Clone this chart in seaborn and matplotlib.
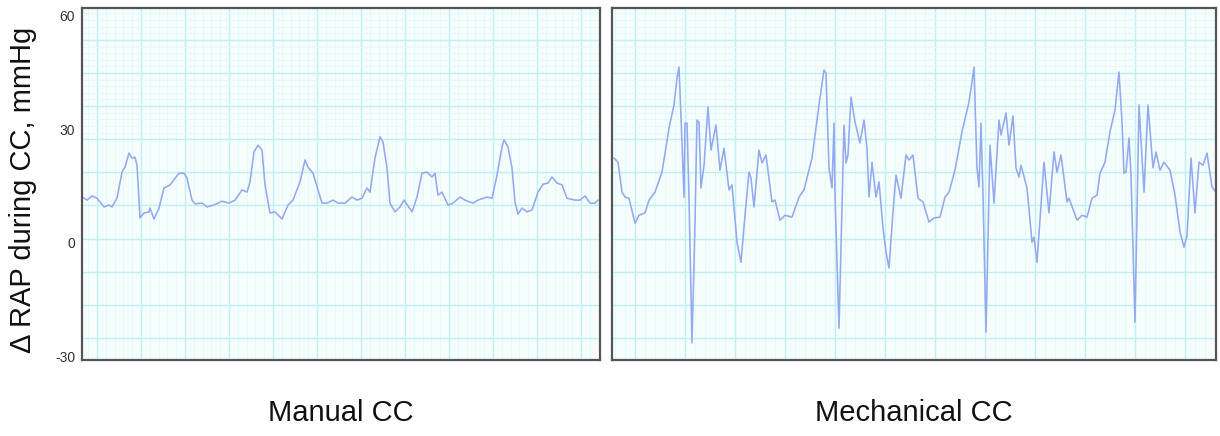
import numpy as np
import pandas as pd
import seaborn as sns
import matplotlib.pyplot as plt

# time (arbitrary sample units) and delta RAP (mmHg)
manual_t = [0, 5, 10, 15, 22, 27, 30, 35, 40, 43, 47, 50, 53, 55, 58, 62, 67, 68, 72, 77,
            82, 88, 97, 102, 105, 110, 113, 120, 125, 132, 140, 147, 153, 160, 165, 168, 172, 176, 180, 183,
            188, 193, 200, 206, 211, 218, 223, 226, 231, 240, 245, 251, 256, 263, 270, 275, 280, 285, 288, 293,
            298, 301, 305, 308, 313, 318, 322, 330, 335, 340, 345, 350, 353, 356, 360, 366, 371, 378, 383, 391,
            396, 405, 410, 415, 420, 422, 426, 430, 433, 436, 440, 445, 450, 456, 461, 466, 470, 475, 480, 485,
            493, 498, 503, 508, 513, 516]
manual_p = [12.2, 11.3, 12.4, 11.8, 9.5, 10.0, 9.5, 11.8, 18.7, 20.0, 23.7, 22.4, 22.6, 20.5, 6.6, 7.9, 8.2, 9.2, 6.3, 9.2,
            14.5, 15.3, 18.4, 18.4, 17.1, 11.3, 10.3, 10.5, 9.5, 10.0, 11.0, 10.5, 11.3, 14.0, 13.4, 16.1, 24.0, 25.8, 24.5, 15.3,
            7.9, 8.2, 6.3, 10.0, 11.3, 16.1, 21.9, 20.0, 18.4, 10.5, 10.5, 11.3, 10.5, 10.5, 12.1, 11.3, 11.8, 14.5, 13.4, 22.4,
            28.0, 26.6, 19.8, 10.5, 8.2, 9.5, 11.3, 8.2, 12.1, 18.4, 18.7, 17.4, 18.4, 12.6, 13.4, 10.0, 10.5, 12.1, 11.3, 10.5,
            11.3, 12.1, 11.8, 17.9, 25.3, 27.2, 25.3, 19.8, 10.8, 7.6, 9.2, 8.2, 8.7, 13.4, 15.5, 15.8, 17.4, 15.8, 15.3, 11.8,
            11.3, 11.3, 12.4, 10.5, 10.5, 11.3]

mech_t = [2, 6, 10, 13, 17, 23, 27, 33, 37, 43, 50, 57, 62, 65, 67, 70, 72, 73, 75, 77,
          80, 83, 85, 87, 89, 92, 96, 99, 104, 108, 112, 117, 120, 125, 129, 133, 137, 139, 142, 147,
          150, 154, 160, 163, 168, 173, 180, 187, 192, 197, 200, 207, 212, 214, 217, 220, 222, 223, 227, 232,
          234, 236, 239, 243, 248, 252, 255, 257, 260, 264, 267, 271, 274, 277, 281, 284, 289, 294, 297, 301,
          306, 311, 317, 322, 328, 333, 337, 343, 350, 357, 360, 362, 365, 367, 369, 371, 374, 378, 382, 387,
          389, 394, 397, 401, 404, 407, 409, 415, 420, 422, 425, 432, 437, 442, 445, 449, 455, 457, 465, 470,
          475, 480, 485, 488, 493, 498, 503, 507, 510, 512, 514, 517, 519, 523, 527, 532, 536, 541, 544, 548,
          552, 558, 563, 568, 572, 575, 579, 583, 587, 591, 595, 600, 604]
mech_p = [22.4, 21.3, 13.4, 12.1, 11.8, 5.2, 7.3, 7.9, 11.3, 13.4, 18.7, 30.3, 36.4, 43.5, 46.4, 26.6, 12.1, 31.6, 31.6, 11.8,
          -26.4, 5.5, 32.4, 31.9, 14.5, 20.5, 35.9, 24.5, 31.1, 19.2, 25.0, 14.0, 15.3, 0.2, -5.1, 7.3, 18.7, 17.1, 9.5, 24.5,
          21.1, 23.2, 10.8, 11.3, 6.0, 7.3, 6.8, 12.1, 14.0, 19.2, 22.4, 36.4, 45.6, 44.8, 19.8, 14.5, 31.6, 12.6, -22.5, 31.1,
          21.1, 23.2, 38.5, 31.9, 26.4, 32.4, 25.0, 12.1, 21.3, 12.1, 16.1, 3.9, -2.4, -6.6, 8.2, 17.9, 11.8, 23.2, 21.9, 23.2,
          11.8, 10.8, 5.5, 6.6, 6.8, 12.1, 13.4, 19.2, 29.3, 37.2, 42.5, 46.4, 19.8, 14.8, 31.6, 12.6, -23.5, 25.8, 10.5, 32.4,
          28.5, 34.3, 25.8, 33.5, 19.8, 17.4, 20.5, 14.5, 0.2, 1.5, -5.1, 21.3, 7.9, 24.0, 18.7, 23.2, 10.8, 11.8, 6.0, 7.3,
          6.8, 11.8, 12.6, 18.4, 21.3, 29.3, 35.1, 45.1, 31.9, 18.4, 18.7, 27.7, 17.9, -20.9, 36.4, 13.4, 36.4, 19.8, 24.0, 19.2,
          21.3, 19.2, 12.6, 2.9, -1.1, 1.9, 22.4, 7.9, 21.3, 20.5, 23.7, 14.8, 13.4]

panel_names = ["Manual CC", "Mechanical CC"]
y_ticks = [60, 30, 0, -30]

sns.set_style("white")
plt.rcParams["font.family"] = ["Liberation Sans", "DejaVu Sans"]

fig = plt.figure(figsize=(12.2, 4.36), dpi=100)
ax1 = fig.add_axes([82 / 1220, 1 - 360 / 436, 518 / 1220, 352 / 436])
ax2 = fig.add_axes([612 / 1220, 1 - 360 / 436, 604 / 1220, 352 / 436])

ylo, yhi = -30.9, 62.0
px = (yhi - ylo) / 352  # mmHg per pixel

traces = [(ax1, manual_t, manual_p, 518, 15, 44), (ax2, mech_t, mech_p, 604, 23, 50)]
for ax, t, p, width, x0, dx in traces:
    ax.set_facecolor("#f5fdfd")
    # ECG-paper style grid
    for gx in np.arange(x0 - dx, width, dx / 5):
        ax.axvline(gx, color="#e2f9fa", lw=0.6, zorder=0)
    for gx in np.arange(x0, width, dx):
        ax.axvline(gx, color="#bff1f3", lw=1.0, zorder=0)
    gy0 = yhi - 65 * px
    gdy = 33.1 * px
    for gy in np.arange(gy0 - 2 * gdy, yhi, gdy / 5):
        if gy > ylo:
            ax.axhline(gy, color="#e2f9fa", lw=0.6, zorder=0)
    for gy in np.arange(gy0 - 9 * gdy, yhi, gdy):
        if gy > ylo:
            ax.axhline(gy, color="#bff1f3", lw=1.0, zorder=0)

    df = pd.DataFrame({"t": t, "p": p})
    sns.lineplot(data=df, x="t", y="p", ax=ax, color="#93aaee", linewidth=1.15,
                 estimator=None, sort=False)
    ax.set_xlim(0, width)
    ax.set_ylim(ylo, yhi)
    ax.set_xlabel("")
    ax.set_ylabel("")
    ax.set_xticks([])
    for s in ax.spines.values():
        s.set_color("#555555")
        s.set_linewidth(1.6)

ax1.set_yticks(y_ticks)
ax1.set_yticklabels([str(v) for v in y_ticks], fontsize=10, color="#333333")
ax1.tick_params(axis="y", length=0, pad=5)
ax2.set_yticks([])

ax1.text(-0.113, 0.483, "Δ RAP during CC, mmHg", rotation=90, ha="center", va="center",
         fontsize=21, color="#111111", transform=ax1.transAxes)
ax1.text(0.5, -0.15, panel_names[0], ha="center", va="center", fontsize=21, color="#111111",
         transform=ax1.transAxes)
ax2.text(0.5, -0.15, panel_names[1], ha="center", va="center", fontsize=21, color="#111111",
         transform=ax2.transAxes)

fig.savefig("out.png", dpi=100)
